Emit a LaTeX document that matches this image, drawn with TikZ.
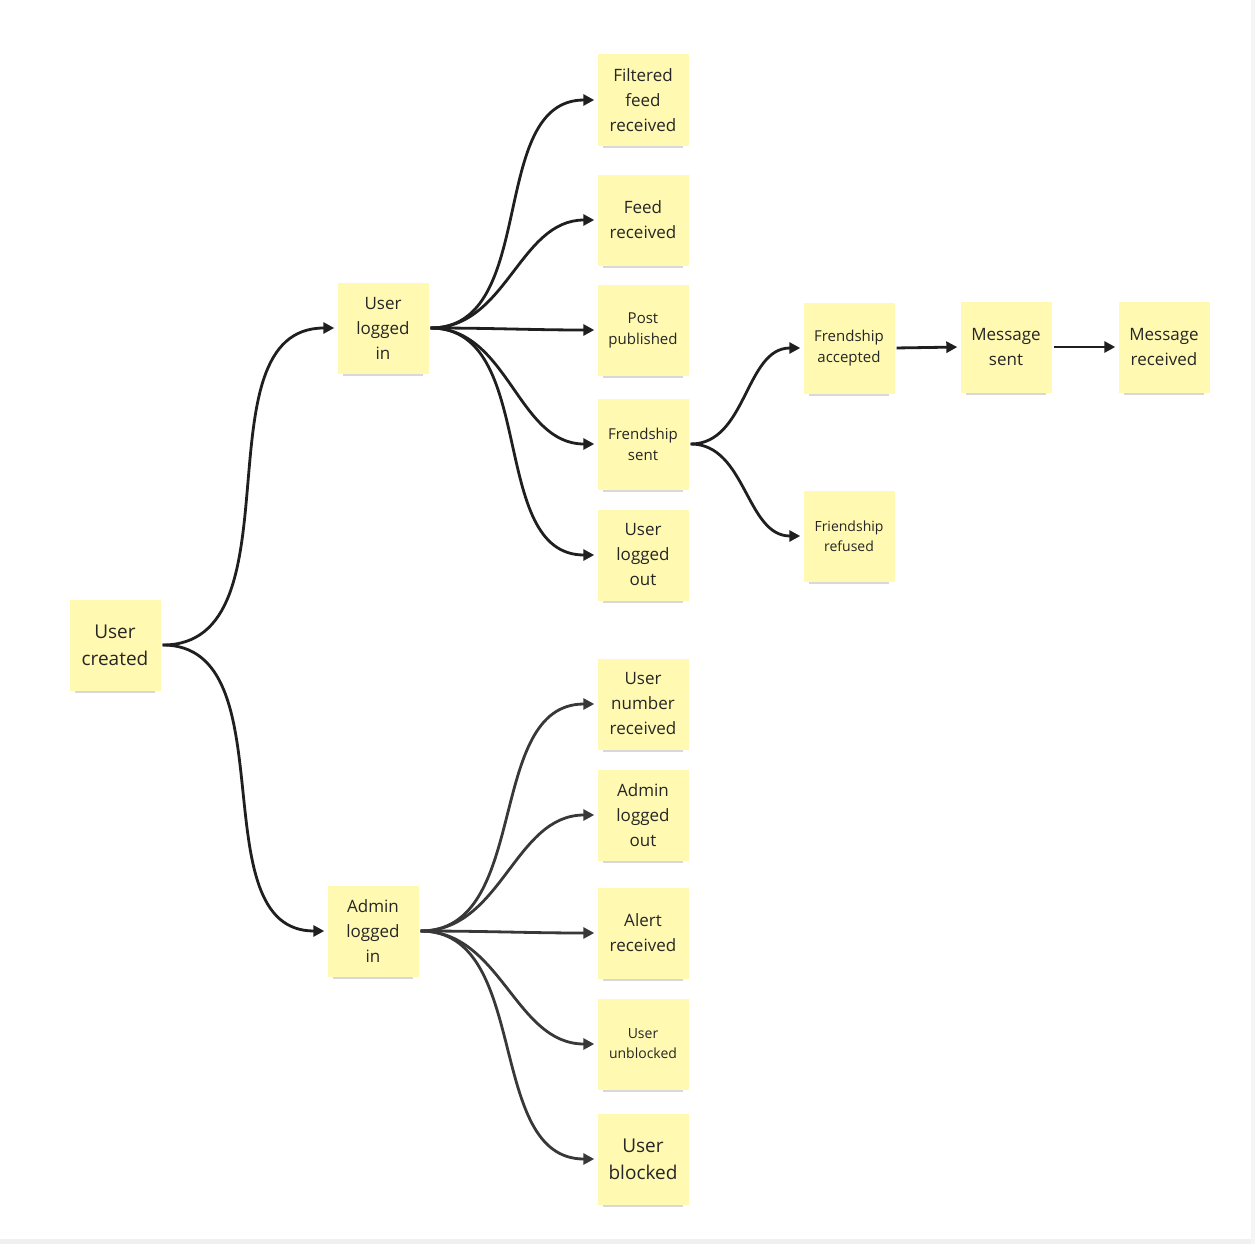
\documentclass[tikz,border=0pt]{standalone}
\usepackage{fontspec}
\setmainfont{Open Sans}
\usetikzlibrary{arrows.meta}
\begin{document}
\begin{tikzpicture}[x=1pt,y=-1pt,
  note/.style={fill=yellow!35!white!95!orange, fill=notecol, minimum width=91pt, minimum height=91pt, inner sep=2pt, align=center, text=black!85, font=\fontsize{17}{25}\selectfont},
  small/.style={font=\fontsize{15}{21}\selectfont},
  tiny/.style={font=\fontsize{14}{20}\selectfont},
  big/.style={font=\fontsize{19}{27}\selectfont},
  conn/.style={line width=2.8pt, draw=black!88, -{Triangle[length=11pt,width=11pt]}, shorten >=3pt, shorten <=2pt},
  gconn/.style={conn, draw=black!78}]
\definecolor{notecol}{HTML}{FFF9B1}
\useasboundingbox (0,0) rectangle (1255,1244);
\fill[white] (0,0) rectangle (1255,1244);
\fill[black!6] (0,1239) rectangle (1255,1244);
\fill[black!4] (1251,0) rectangle (1255,1244);
\def\N#1#2#3#4#5{%
  \fill[black!25,opacity=0.6] (#2-40,#3+44) rectangle (#2+40,#3+48);
  \node[note,#4] (#1) at (#2,#3) {#5};}
\N{uc}{115}{645}{big}{User\\created}
\N{uli}{383}{328}{}{User\\logged\\in}
\N{ali}{373}{931}{}{Admin\\logged\\in}
\N{ffr}{643}{100}{}{Filtered\\feed\\received}
\N{fr}{643}{220}{}{Feed\\received}
\N{pp}{643}{330}{small}{Post\\published}
\N{fs}{643}{444}{small}{Frendship\\sent}
\N{ulo}{643}{555}{}{User\\logged\\out}
\N{fa}{849}{348}{small}{Frendship\\accepted}
\N{ms}{1006}{347}{}{Message\\sent}
\N{mr}{1164}{347}{}{Message\\received}
\N{frf}{849}{536}{tiny}{Friendship\\refused}
\N{unr}{643}{704}{}{User\\number\\received}
\N{alo}{643}{815}{}{Admin\\logged\\out}
\N{ar}{643}{933}{}{Alert\\received}
\N{uub}{643}{1044}{tiny}{User\\unblocked}
\N{ub}{643}{1159}{big}{User\\blocked}
\draw[conn] (uc.east) to[out=0,in=180] (uli.west);
\draw[conn] (uc.east) to[out=0,in=180] (ali.west);
\foreach \t in {ffr,fr,pp,fs,ulo} \draw[conn] (uli.east) to[out=0,in=180] (\t.west);
\foreach \t in {unr,alo,ar,uub,ub} \draw[gconn] (ali.east) to[out=0,in=180] (\t.west);
\draw[conn] (fs.east) to[out=0,in=180] (fa.west);
\draw[conn] (fs.east) to[out=0,in=180] (frf.west);
\draw[conn] (fa.east) -- (ms.west);
\draw[conn] (ms.east) -- (mr.west);
\end{tikzpicture}
\end{document}
